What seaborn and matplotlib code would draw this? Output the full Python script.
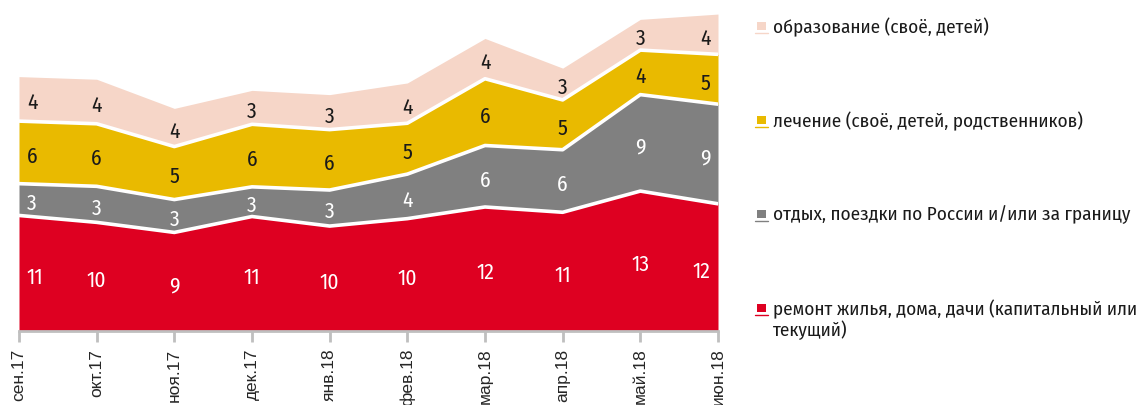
import matplotlib
matplotlib.use("Agg")
import matplotlib.pyplot as plt
from matplotlib.patches import Rectangle
from matplotlib.lines import Line2D
import numpy as np
import pandas as pd
import seaborn as sns

# ---- data ----
months = ['сен.17', 'окт.17', 'ноя.17', 'дек.17', 'янв.18',
          'фев.18', 'мар.18', 'апр.18', 'май.18', 'июн.18']
series_names = ['ремонт жилья, дома, дачи (капитальный или\nтекущий)',
                'отдых, поездки по России и/или за границу',
                'лечение (своё, детей, родственников)',
                'образование (своё, детей)']
repair    = [10.9, 10.25, 9.3, 10.8, 9.9, 10.6, 11.7, 11.2, 13.2, 12.0]
travel    = [3.0, 3.4, 3.1, 2.8, 3.4, 4.2, 5.8, 5.9, 9.1, 9.4]
treatment = [5.9, 5.9, 5.0, 5.9, 5.7, 4.8, 6.3, 4.7, 4.2, 4.7]
education = [4.2, 4.2, 3.6, 3.2, 3.3, 3.8, 3.8, 3.0, 2.9, 3.8]
# displayed labels
repair_lbl    = [11, 10, 9, 11, 10, 10, 12, 11, 13, 12]
travel_lbl    = [3, 3, 3, 3, 3, 4, 6, 6, 9, 9]
treatment_lbl = [6, 6, 5, 6, 6, 5, 6, 5, 4, 5]
education_lbl = [4, 4, 4, 3, 3, 4, 4, 3, 3, 4]

colors = ['#DE0021', '#808080', '#E9BA00', '#F6D6C8']
label_colors = ['white', 'white', '#1a1a1a', '#1a1a1a']

sns.set_theme(style='white')
cond = ['Fira Sans Condensed', 'PT Sans Narrow', 'Roboto Condensed', 'DejaVu Sans']
plt.rcParams['font.family'] = cond

W, H = 1142, 406
fig = plt.figure(figsize=(W / 100, H / 100), dpi=100)
px_per_unit = 10.6
base_y, top_y = 332, 3
ax = fig.add_axes([19 / W, (H - base_y) / H, 699 / W, (base_y - top_y) / H])

x = np.arange(len(months))
layers = [repair, travel, treatment, education]
labels = [repair_lbl, travel_lbl, treatment_lbl, education_lbl]
ax.stackplot(x, *layers, colors=colors, linewidth=0)

cum = np.cumsum(np.array(layers), axis=0)
bounds = pd.DataFrame({'x': np.tile(x, 3), 'y': cum[:3].ravel(),
                       'layer': np.repeat([0, 1, 2], len(x))})
sns.lineplot(data=bounds, x='x', y='y', units='layer', estimator=None,
             color='white', lw=2.6, ax=ax, legend=False)

bottoms = np.vstack([np.zeros(len(x)), cum[:-1]])
for li in range(4):
    for i in range(len(x)):
        mid = bottoms[li, i] + layers[li][i] / 2 - 0.3
        if i == 0:
            xx, ha = i + 0.1, 'left'
        elif i == len(x) - 1:
            xx, ha = i - 0.1, 'right'
        else:
            xx, ha = i, 'center'
        ax.text(xx, mid, str(labels[li][i]), ha=ha, va='center',
                fontsize=15.5, color=label_colors[li])

ax.set_xlim(0, len(x) - 1)
ax.set_ylim(0, (base_y - top_y) / px_per_unit)
ax.set_yticks([])
ax.set_xticks(x)
ax.set_xticklabels(months, rotation=90, fontsize=12.5,
                   family=['Liberation Sans', 'DejaVu Sans'])
ax.set_xlabel('')
ax.set_ylabel('')
for s in ['top', 'left', 'right']:
    ax.spines[s].set_visible(False)
ax.spines['bottom'].set_color('#BFBFBF')
ax.spines['bottom'].set_linewidth(2)
ax.tick_params(axis='x', direction='out', length=8, width=2,
               color='#BFBFBF', pad=4, bottom=True)
ax.set_facecolor('none')

# ---- legend (drawn manually on the figure) ----
leg_y = [310, 216, 122, 28]
for li in range(4):
    yc = leg_y[li]
    fig.add_artist(Rectangle((757 / W, (H - yc - 3) / H), 9 / W, 8 / H,
                             transform=fig.transFigure, color=colors[li], lw=0))
    fig.add_artist(Line2D([755 / W, 768 / W], [(H - yc - 6) / H] * 2,
                          transform=fig.transFigure, color=colors[li], lw=1))
    fig.text(773 / W, (H - yc + 10.5) / H, series_names[li], ha='left', va='top',
             fontsize=13.8, color='#1a1a1a', linespacing=1.1)

fig.savefig('out.png', dpi=100)
